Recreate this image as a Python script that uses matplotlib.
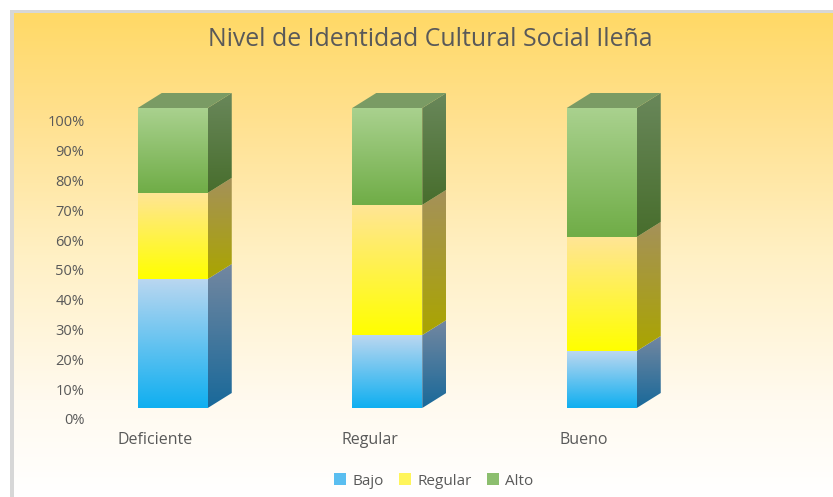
import numpy as np
import matplotlib
matplotlib.use("Agg")
import matplotlib.pyplot as plt
from matplotlib.colors import LinearSegmentedColormap
from matplotlib.patches import Patch, Polygon, Rectangle

plt.rcParams['font.family'] = ['Open Sans', 'DejaVu Sans']

categories = ["Deficiente", "Regular", "Bueno"]
series_names = ["Bajo", "Regular", "Alto"]
bajo = [43.0, 24.3, 19.0]
regular = [28.7, 43.4, 38.0]
alto = [28.3, 32.3, 43.0]
y_ticks = list(range(0, 101, 10))

W, H = 833, 497
GREY = "#595959"

# colores: abajo -> arriba
front_cols = [("#10aff0", "#bad7f0"), ("#ffff00", "#ffe596"), ("#70ad47", "#a9d18e")]
side_cols = [("#19699a", "#7387a0"), ("#aaa500", "#a5915a"), ("#486e2d", "#69875a")]
top_col = "#7a9b64"
legend_cols = ["#5abef0", "#fff55a", "#8cbe6e"]


def px_axes(fig, left, top, right, bottom):
    return fig.add_axes([left / W, 1 - bottom / H, (right - left) / W, (bottom - top) / H])


def gradient(ax, pts, c0, c1):
    # rellena un poligono con degradado vertical
    xs = [p[0] for p in pts]
    ys = [p[1] for p in pts]
    cmap = LinearSegmentedColormap.from_list("g", [c0, c1])
    im = ax.imshow(np.linspace(1, 0, 64).reshape(-1, 1), cmap=cmap, aspect="auto", vmin=0, vmax=1,
                   extent=(min(xs), max(xs), min(ys), max(ys)), interpolation="bilinear", zorder=2)
    poly = Polygon(pts, closed=True, fc="none", ec="none", transform=ax.transData)
    ax.add_patch(poly)
    im.set_clip_path(poly)


fig = plt.figure(figsize=(W / 100, H / 100), dpi=100, facecolor="white")

# fondo
bg = px_axes(fig, 0, 0, W, H)
bg.set_xlim(0, W)
bg.set_ylim(H, 0)
bg.axis("off")
bg_cmap = LinearSegmentedColormap.from_list(
    "bg", [(0, "#ffd966"), (0.2, "#ffe08c"), (0.5, "#fff0c4"), (0.8, "#fffaef"), (1, "#ffffff")])
bg.imshow(np.linspace(0, 1, 256).reshape(-1, 1), cmap=bg_cmap, aspect="auto", extent=(14, W, H, 13))
bg.add_patch(Rectangle((10, 10), W - 10, 3, fc="#d7d7d7", ec="none"))
bg.add_patch(Rectangle((10, 10), 4, H - 10, fc="#d7d7d7", ec="none"))
bg.set_xlim(0, W)
bg.set_ylim(H, 0)

# barras
ax = px_axes(fig, 65.5, 93, 709, 408)
ax.patch.set_alpha(0)
bar_w = 70 / 214.5
dx = 24 / 214.5
dy = 15 / 3.0
for i in range(len(categories)):
    x0, x1 = i - bar_w / 2, i + bar_w / 2
    base = 0
    for vals, fc, sc in zip([bajo, regular, alto], front_cols, side_cols):
        top = base + vals[i]
        gradient(ax, [(x0, base), (x1, base), (x1, top), (x0, top)], fc[0], fc[1])
        gradient(ax, [(x1, base), (x1 + dx, base + dy), (x1 + dx, top + dy), (x1, top)], sc[0], sc[1])
        base = top
    ax.add_patch(Polygon([(x0, base), (x1, base), (x1 + dx, base + dy), (x0 + dx, base + dy)],
                         closed=True, fc=top_col, ec="none", zorder=2))
ax.set_xlim(-0.5, 2.5)
ax.set_ylim(0, 105)
ax.axis("off")

# ejes (desplazados respecto a las barras por la perspectiva)
ax_t = px_axes(fig, 90, 121, 691.5, 419)
ax_t.patch.set_alpha(0)
ax_t.set_xlim(-65 / 214.5, 2.5)
ax_t.set_ylim(0, 100)
ax_t.set_yticks(y_ticks)
ax_t.set_yticklabels([f"{v}%" for v in y_ticks])
ax_t.set_xticks(range(len(categories)))
ax_t.set_xticklabels(categories)
ax_t.tick_params(axis="y", length=0, labelsize=10.5, labelcolor=GREY, pad=4)
ax_t.tick_params(axis="x", length=0, labelsize=11.5, labelcolor=GREY, pad=9)
for s in ax_t.spines.values():
    s.set_visible(False)

fig.text(430 / W, 1 - 40 / H, "Nivel de Identidad Cultural Social Ileña", ha="center", va="center",
         fontsize=17.9, color=GREY)

handles = [Patch(fc=c, ec="none", label=n) for c, n in zip(legend_cols, series_names)]
fig.legend(handles=handles, loc="center", bbox_to_anchor=(433.5 / W, 1 - 481 / H), ncol=3, frameon=False,
           fontsize=11, labelcolor=GREY, handlelength=0.8, handleheight=0.8, handletextpad=0.4,
           columnspacing=1.0)

fig.savefig("out.png", dpi=100)
